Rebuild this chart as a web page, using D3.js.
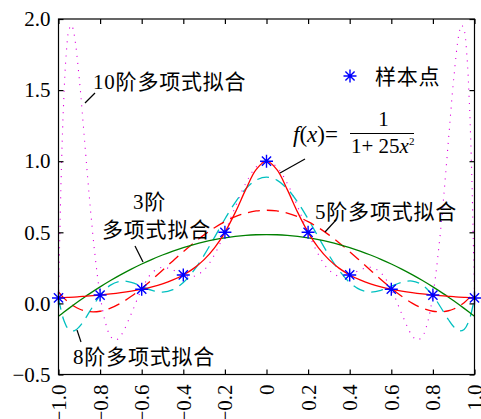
<!DOCTYPE html>
<html>
<head>
<meta charset="utf-8">
<script src="https://cdn.jsdelivr.net/npm/d3@7"></script>
<style>
  body { margin: 0; background: #fff; }
  text { font-family: "Liberation Serif", "Noto Sans CJK SC", serif; }
</style>
</head>
<body>
<svg id="chart" width="481" height="419"></svg>
<script>
// sample points of f(x) = 1/(1+25x^2)
var sampleX = [-1, -0.8, -0.6, -0.4, -0.2, 0, 0.2, 0.4, 0.6, 0.8, 1];
var sampleY = [0.0385, 0.0588, 0.1, 0.2, 0.5, 1, 0.5, 0.2, 0.1, 0.0588, 0.0385];

// x positions where the smooth curves were read
var xGrid = [-1, -0.975, -0.95, -0.925, -0.9, -0.875, -0.85, -0.8, -0.75, -0.7, -0.65, -0.6, -0.55, -0.5,
  -0.45, -0.4, -0.35, -0.3, -0.25, -0.2, -0.15, -0.1, -0.05, 0, 0.05, 0.1, 0.15, 0.2, 0.25, 0.3, 0.35,
  0.4, 0.45, 0.5, 0.55, 0.6, 0.65, 0.7, 0.75, 0.8, 0.85, 0.875, 0.9, 0.925, 0.95, 0.975, 1];

var rungeY = [0.0385, 0.0404, 0.0424, 0.0447, 0.0471, 0.0497, 0.0525, 0.0588, 0.0664, 0.0755, 0.0865, 0.1,
  0.1168, 0.1379, 0.1649, 0.2, 0.2462, 0.3077, 0.3902, 0.5, 0.64, 0.8, 0.9412, 1, 0.9412, 0.8, 0.64, 0.5,
  0.3902, 0.3077, 0.2462, 0.2, 0.1649, 0.1379, 0.1168, 0.1, 0.0865, 0.0755, 0.0664, 0.0588, 0.0525, 0.0497,
  0.0471, 0.0447, 0.0424, 0.0404, 0.0385];

var fit3Y = [-0.0911, -0.0627, -0.0350, -0.0080, 0.0182, 0.0438, 0.0686, 0.1160, 0.1606, 0.2023, 0.2411,
  0.2771, 0.3101, 0.3403, 0.3676, 0.3921, 0.4137, 0.4324, 0.4482, 0.4611, 0.4712, 0.4784, 0.4827, 0.4841,
  0.4827, 0.4784, 0.4712, 0.4611, 0.4482, 0.4324, 0.4137, 0.3921, 0.3676, 0.3403, 0.3101, 0.2771, 0.2411,
  0.2023, 0.1606, 0.1160, 0.0686, 0.0438, 0.0182, -0.0080, -0.0350, -0.0627, -0.0911];

var fit5Y = [0.0800, 0.0387, 0.0054, -0.0204, -0.0393, -0.0517, -0.0581, -0.0551, -0.0338, 0.0022, 0.0498,
  0.1060, 0.1679, 0.2329, 0.2989, 0.3636, 0.4251, 0.4818, 0.5322, 0.5752, 0.6096, 0.6348, 0.6501, 0.6552,
  0.6501, 0.6348, 0.6096, 0.5752, 0.5322, 0.4818, 0.4251, 0.3636, 0.2989, 0.2329, 0.1679, 0.1060, 0.0498,
  0.0022, -0.0338, -0.0551, -0.0581, -0.0517, -0.0393, -0.0204, 0.0054, 0.0387, 0.0800];

var fit8Y = [0.0389, -0.1155, -0.1838, -0.1931, -0.1647, -0.1150, -0.0565, 0.0544, 0.1286, 0.1569, 0.1482,
  0.1200, 0.0916, 0.0798, 0.0964, 0.1467, 0.2298, 0.3393, 0.4648, 0.5933, 0.7112, 0.8057, 0.8669, 0.8880,
  0.8669, 0.8057, 0.7112, 0.5933, 0.4648, 0.3393, 0.2298, 0.1467, 0.0964, 0.0798, 0.0916, 0.1200, 0.1482,
  0.1569, 0.1286, 0.0544, -0.0565, -0.1150, -0.1647, -0.1931, -0.1838, -0.1155, 0.0389];

// the 10th degree curve needs more points near the ends
var x10 = [-1, -0.9875, -0.975, -0.9625, -0.95, -0.9375, -0.925, -0.9, -0.875, -0.85, -0.825, -0.8, -0.775,
  -0.75, -0.725, -0.7, -0.65, -0.6, -0.55, -0.5, -0.45, -0.4, -0.35, -0.3, -0.25, -0.2, -0.15, -0.1, -0.05,
  0, 0.05, 0.1, 0.15, 0.2, 0.25, 0.3, 0.35, 0.4, 0.45, 0.5, 0.55, 0.6, 0.65, 0.7, 0.725, 0.75, 0.775, 0.8,
  0.825, 0.85, 0.875, 0.9, 0.925, 0.9375, 0.95, 0.9625, 0.975, 0.9875, 1];
var fit10Y = [0.0385, 0.8681, 1.4231, 1.7592, 1.9236, 1.9568, 1.8924, 1.5787, 1.1517, 0.7195, 0.3450, 0.0588,
  -0.1312, -0.2315, -0.2569, -0.2262, -0.0726, 0.1, 0.2156, 0.2538, 0.2350, 0.2, 0.1906, 0.2353, 0.3426,
  0.5, 0.6790, 0.8434, 0.9586, 1, 0.9586, 0.8434, 0.6790, 0.5, 0.3426, 0.2353, 0.1906, 0.2, 0.2350, 0.2538,
  0.2156, 0.1, -0.0726, -0.2262, -0.2569, -0.2315, -0.1312, 0.0588, 0.3450, 0.7195, 1.1517, 1.5787, 1.8924,
  1.9568, 1.9236, 1.7592, 1.4231, 0.8681, 0.0385];

var xTicks = [-1, -0.8, -0.6, -0.4, -0.2, 0, 0.2, 0.4, 0.6, 0.8, 1];
var xTickLabels = ["\u22121.0", "\u22120.8", "\u22120.6", "\u22120.4", "\u22120.2", "0", "0.2", "0.4", "0.6", "0.8", "1.0"];
var yTicks = [-0.5, 0, 0.5, 1, 1.5, 2];
var yTickLabels = ["\u22120.5", "0.0", "0.5", "1.0", "1.5", "2.0"];

var margin = {top: 19, right: 6.5, bottom: 44.5, left: 58.5};
var width = 481 - margin.left - margin.right;
var height = 419 - margin.top - margin.bottom;

var svg = d3.select("#chart").append("g")
    .attr("transform", "translate(" + margin.left + "," + margin.top + ")");

var x = d3.scaleLinear().domain([-1, 1]).range([0, width]);
var y = d3.scaleLinear().domain([-0.5, 2]).range([height, 0]);

svg.append("clipPath").attr("id", "plotclip")
  .append("rect").attr("width", width).attr("height", height);

var plot = svg.append("g").attr("clip-path", "url(#plotclip)");

function lineFor(xs) {
  return d3.line()
    .x(function(d, i) { return x(xs[i]); })
    .y(function(d) { return y(d); })
    .curve(d3.curveCatmullRom);
}

// 10阶 (dotted magenta)
plot.append("path").datum(fit10Y)
    .attr("d", lineFor(x10))
    .attr("fill", "none").attr("stroke", "#e000e0")
    .attr("stroke-width", 1.1).attr("stroke-dasharray", "1.1,6");

// 8阶 (dashed cyan)
plot.append("path").datum(fit8Y)
    .attr("d", lineFor(xGrid))
    .attr("fill", "none").attr("stroke", "#00c0c0")
    .attr("stroke-width", 1.3).attr("stroke-dasharray", "12,7");

// 5阶 (dashed red)
plot.append("path").datum(fit5Y)
    .attr("d", lineFor(xGrid))
    .attr("fill", "none").attr("stroke", "#ff0000")
    .attr("stroke-width", 1.3).attr("stroke-dasharray", "12,7");

// 3阶 (green)
plot.append("path").datum(fit3Y)
    .attr("d", lineFor(xGrid))
    .attr("fill", "none").attr("stroke", "#008000")
    .attr("stroke-width", 1.3);

// f(x)
plot.append("path").datum(rungeY)
    .attr("d", lineFor(xGrid))
    .attr("fill", "none").attr("stroke", "#ff0000")
    .attr("stroke-width", 1.3);

// asterisk marker
function starPath(r) {
  var d = 0.7071 * r;
  return "M" + (-r) + ",0L" + r + ",0M0," + (-r) + "L0," + r +
    "M" + (-d) + "," + (-d) + "L" + d + "," + d + "M" + (-d) + "," + d + "L" + d + "," + (-d);
}

svg.selectAll(".star").data(sampleY).enter().append("path")
    .attr("class", "star")
    .attr("transform", function(d, i) { return "translate(" + x(sampleX[i]) + "," + y(d) + ")"; })
    .attr("d", starPath(6.5))
    .attr("stroke", "#0000ff").attr("stroke-width", 1.4).attr("fill", "none");

// frame
svg.append("rect").attr("width", width).attr("height", height)
    .attr("fill", "none").attr("stroke", "#000").attr("stroke-width", 1.2);

// axes with inward ticks
var xAxis = d3.axisBottom(x).tickValues(xTicks).tickSize(-5).tickSizeOuter(0)
    .tickFormat(function(d, i) { return xTickLabels[i]; });
var gx = svg.append("g").attr("transform", "translate(0," + height + ")").call(xAxis);
gx.selectAll("text")
    .attr("y", 0).attr("x", -10).attr("dy", "0.33em")
    .attr("transform", "rotate(-90)")
    .style("text-anchor", "end")
    .style("font-size", "21px")
    .style("font-family", "'Liberation Serif', serif");

var yAxis = d3.axisLeft(y).tickValues(yTicks).tickSize(-5).tickSizeOuter(0).tickPadding(8)
    .tickFormat(function(d, i) { return yTickLabels[i]; });
var gy = svg.append("g").call(yAxis);
gy.selectAll("text").style("font-size", "21px").style("font-family", "'Liberation Serif', serif");

svg.append("g").call(d3.axisTop(x).tickValues(xTicks).tickSize(-5).tickSizeOuter(0).tickFormat(""));
svg.append("g").attr("transform", "translate(" + width + ",0)")
    .call(d3.axisRight(y).tickValues(yTicks).tickSize(-5).tickSizeOuter(0).tickFormat(""));

svg.selectAll(".domain").remove();
svg.selectAll(".tick line").attr("stroke", "#000").attr("stroke-width", 1.2);

// annotations (drawn in page coordinates)
var page = d3.select("#chart");

function label(txt, px, py, size) {
  page.append("text").attr("x", px).attr("y", py)
    .style("font-size", (size || 21) + "px")
    .style("letter-spacing", "0.8px")
    .attr("fill", "#000")
    .text(txt);
}
function leader(x1, y1, x2, y2) {
  page.append("line").attr("x1", x1).attr("y1", y1).attr("x2", x2).attr("y2", y2)
    .attr("stroke", "#000").attr("stroke-width", 1.2);
}

label("10阶多项式拟合", 93, 89);
leader(85, 103, 95, 93);

label("3阶", 133, 209);
label("多项式拟合", 102, 237);
leader(135, 246, 143, 262);

label("5阶多项式拟合", 315, 219);
leader(325, 232, 336, 220);

label("8阶多项式拟合", 73, 364);
leader(77, 330, 81, 342);

// legend
page.append("path").attr("transform", "translate(350,76)")
    .attr("d", starPath(6.5))
    .attr("stroke", "#0000ff").attr("stroke-width", 1.4).attr("fill", "none");
label("样本点", 375, 84);

// f(x) formula
var fx = page.append("text").attr("x", 293).attr("y", 142).style("font-size", "23px");
fx.append("tspan").style("font-style", "italic").text("f");
fx.append("tspan").text("(");
fx.append("tspan").style("font-style", "italic").text("x");
fx.append("tspan").text(")=");

page.append("text").attr("x", 383.5).attr("y", 126).attr("text-anchor", "middle")
    .style("font-size", "21px").text("1");
page.append("line").attr("x1", 350).attr("x2", 414).attr("y1", 133.5).attr("y2", 133.5)
    .attr("stroke", "#000").attr("stroke-width", 1.1);
var den = page.append("text").attr("x", 351).attr("y", 153).style("font-size", "21px");
den.append("tspan").text("1+ 25");
den.append("tspan").style("font-style", "italic").text("x");
den.append("tspan").attr("dy", -8).style("font-size", "11px").text("2");

leader(280, 173, 305, 159);
</script>
</body>
</html>
